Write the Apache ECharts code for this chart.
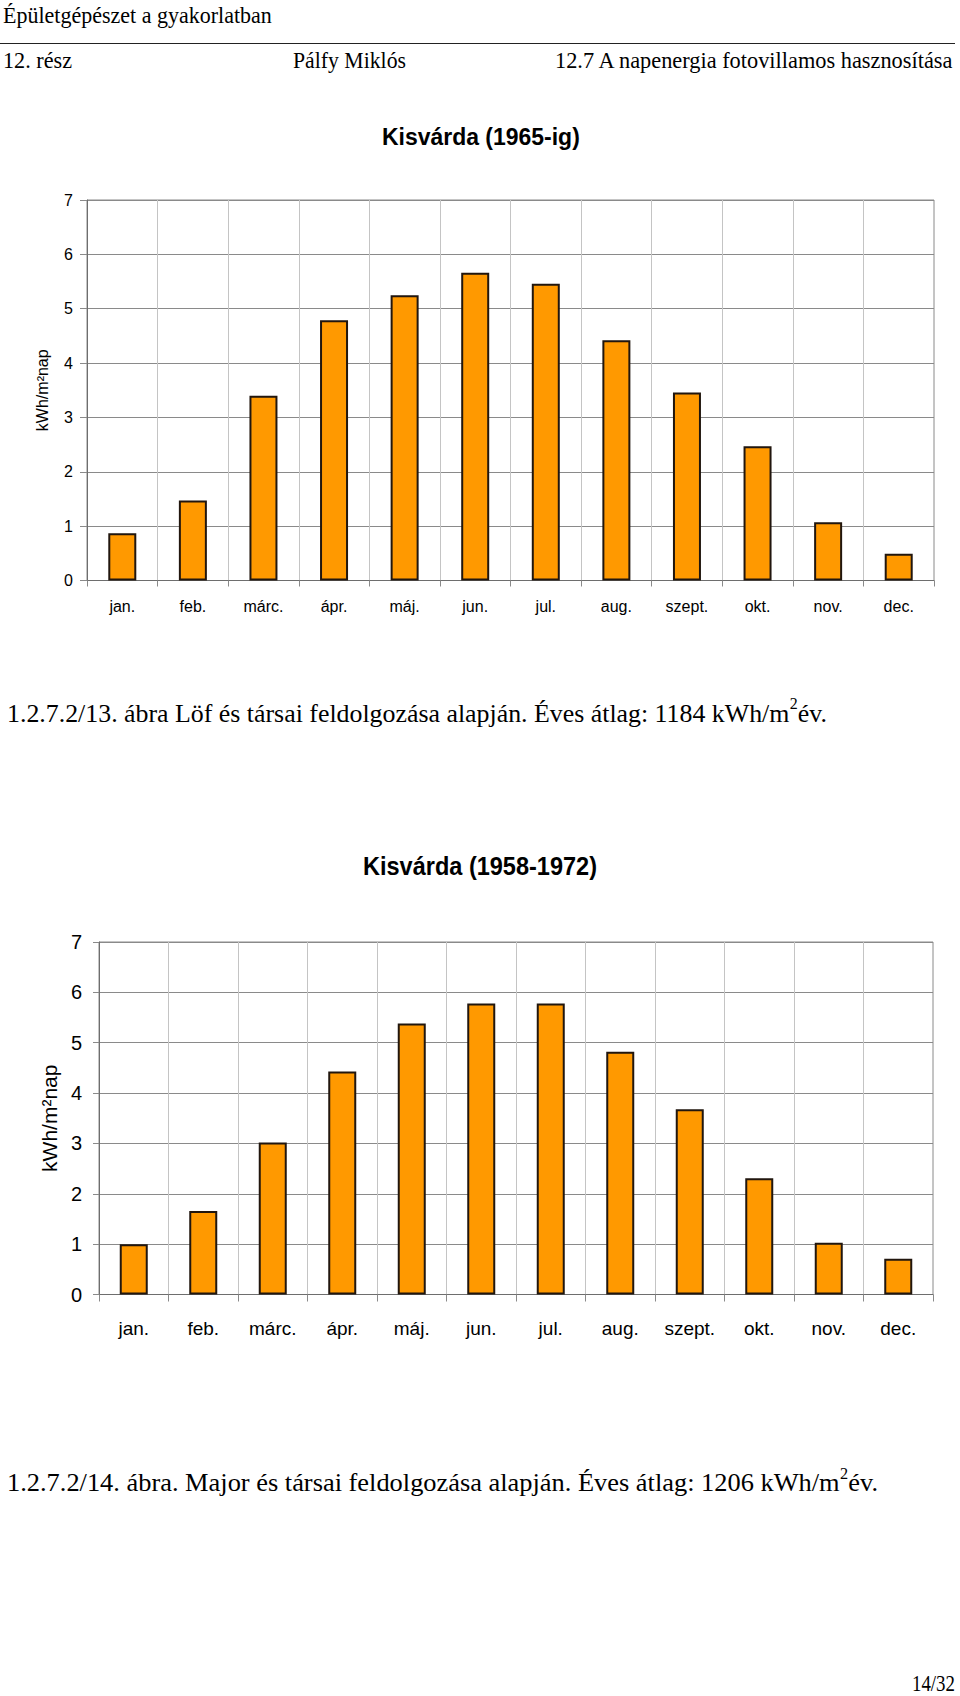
<!DOCTYPE html>
<html>
<head>
<meta charset="utf-8">
<script src="https://cdn.jsdelivr.net/npm/echarts@6.0.0/dist/echarts.min.js"></script>
<style>
html,body{margin:0;padding:0;background:#fff;}
#c{width:960px;height:1696px;}
</style>
</head>
<body>
<div id="c"></div>
<script>
// ---- data ----
const months = ['jan.', 'feb.', 'márc.', 'ápr.', 'máj.', 'jun.', 'jul.', 'aug.', 'szept.', 'okt.', 'nov.', 'dec.'];
const kisvarda1965 = [0.87, 1.47, 3.40, 4.79, 5.25, 5.66, 5.46, 4.42, 3.46, 2.47, 1.07, 0.49];
const kisvarda1958 = [1.00, 1.66, 3.02, 4.43, 5.38, 5.78, 5.78, 4.82, 3.68, 2.31, 1.03, 0.71];
const yMin = 0, yMax = 7, yStep = 1;
const title1965 = 'Kisvárda (1965-ig)';
const title1958 = 'Kisvárda (1958-1972)';
const yAxisName = 'kWh/m²nap';
const headerTitle = 'Épületgépészet a gyakorlatban';
const headerLeft = '12. rész';
const headerMid = 'Pálfy Miklós';
const headerRight = '12.7 A napenergia fotovillamos hasznosítása';
const caption1 = ['1.2.7.2/13. ábra Löf és társai feldolgozása alapján. Éves átlag: 1184 kWh/m', '2', 'év.'];
const caption2 = ['1.2.7.2/14. ábra. Major és társai feldolgozása alapján. Éves átlag: 1206 kWh/m', '2', 'év.'];
const pageNo = '14/32';

// ---- helpers ----
const SERIF = '"Liberation Serif", "Times New Roman", serif';
const SANS = '"Liberation Sans", Arial, sans-serif';
const mctx = document.createElement('canvas').getContext('2d');
function measure(str, size, family, weight) {
  mctx.font = (weight || 'normal') + ' ' + size + 'px ' + family;
  return mctx.measureText(str).width;
}
function fitText(str, x, y, width, size, family, weight) {
  const w = measure(str, size, family, weight);
  return {
    type: 'text', x: x, y: y, scaleX: width / w, scaleY: 1, silent: true,
    style: { text: str, fontSize: size, fontFamily: family, fontWeight: weight || 'normal',
      fill: '#000', align: 'left', verticalAlign: 'middle' }
  };
}
function captionEls(parts, x, y, width, size) {
  const supSize = Math.round(size * 0.6);
  const w0 = measure(parts[0], size, SERIF);
  const w1 = measure(parts[1], supSize, SERIF);
  const w2 = measure(parts[2], size, SERIF);
  const s = width / (w0 + w1 + w2);
  const mk = (t, xx, yy, fs) => ({
    type: 'text', x: xx, y: yy, scaleX: s, scaleY: 1, silent: true,
    style: { text: t, fontSize: fs, fontFamily: SERIF, fill: '#000', align: 'left', verticalAlign: 'middle' }
  });
  return [
    mk(parts[0], x, y, size),
    mk(parts[1], x + w0 * s, y - size * 0.36, supSize),
    mk(parts[2], x + (w0 + w1) * s, y, size)
  ];
}

function xAxisCfg(gi, fs, margin, tickLen) {
  return {
    type: 'category', gridIndex: gi, data: months, boundaryGap: true,
    axisLine: { show: true, lineStyle: { color: '#6e6e6e', width: 1 } },
    axisTick: { show: true, length: tickLen, lineStyle: { color: '#8a8a8a' } },
    axisLabel: { interval: 0, color: '#000', fontSize: fs, fontFamily: SANS, margin: margin },
    splitLine: { show: true, lineStyle: { color: '#c4c4c4', width: 1 } }
  };
}
function yAxisCfg(gi, fs, margin, tickLen, nameFs, nameGap) {
  return {
    type: 'value', gridIndex: gi, min: yMin, max: yMax, interval: yStep,
    name: yAxisName, nameLocation: 'middle', nameGap: nameGap,
    nameTextStyle: { fontSize: nameFs, fontFamily: SANS, color: '#000' },
    axisLine: { show: true, lineStyle: { color: '#6e6e6e', width: 1 } },
    axisTick: { show: true, length: tickLen, lineStyle: { color: '#8a8a8a' } },
    axisLabel: { color: '#000', fontSize: fs, fontFamily: SANS, margin: margin },
    splitLine: { show: true, lineStyle: { color: '#8a8a8a', width: 1 } }
  };
}
function barSeries(idx, data) {
  return {
    type: 'bar', xAxisIndex: idx, yAxisIndex: idx, data: data, barWidth: 28, silent: true,
    itemStyle: { color: '#FF9900', borderColor: '#21160e', borderWidth: 2 }
  };
}

const chart = echarts.init(document.getElementById('c'), null, { renderer: 'svg' });
const graphics = [
  fitText(headerTitle, 3, 15, 269, 23, SERIF),
  { type: 'line', silent: true, shape: { x1: 0, y1: 43.5, x2: 955, y2: 43.5 }, style: { stroke: '#222', lineWidth: 1 } },
  fitText(headerLeft, 3, 60, 69, 23, SERIF),
  fitText(headerMid, 293, 60, 113, 23, SERIF),
  fitText(headerRight, 555, 60, 400, 23, SERIF),
  fitText(title1965, 382, 137, 198, 23, SANS, 'bold'),
  fitText(title1958, 363, 866, 234, 25, SANS, 'bold'),
  ...captionEls(caption1, 7, 713, 820, 26),
  ...captionEls(caption2, 7, 1483, 871, 26),
  fitText(pageNo, 912, 1683, 43, 23, SERIF)
];

chart.setOption({
  animation: false,
  backgroundColor: '#fff',
  grid: [
    { left: 87, top: 200, width: 847, height: 380.5, show: true, borderColor: '#8a8a8a', borderWidth: 1, containLabel: false },
    { left: 99, top: 942, width: 834, height: 352.5, show: true, borderColor: '#8a8a8a', borderWidth: 1, containLabel: false }
  ],
  xAxis: [xAxisCfg(0, 16, 18, 6), xAxisCfg(1, 19, 24, 7)],
  yAxis: [yAxisCfg(0, 16, 14, 7, 16, 37), yAxisCfg(1, 20, 17, 6, 21, 38)],
  series: [barSeries(0, kisvarda1965), barSeries(1, kisvarda1958)],
  graphic: graphics
});
</script>
</body>
</html>
